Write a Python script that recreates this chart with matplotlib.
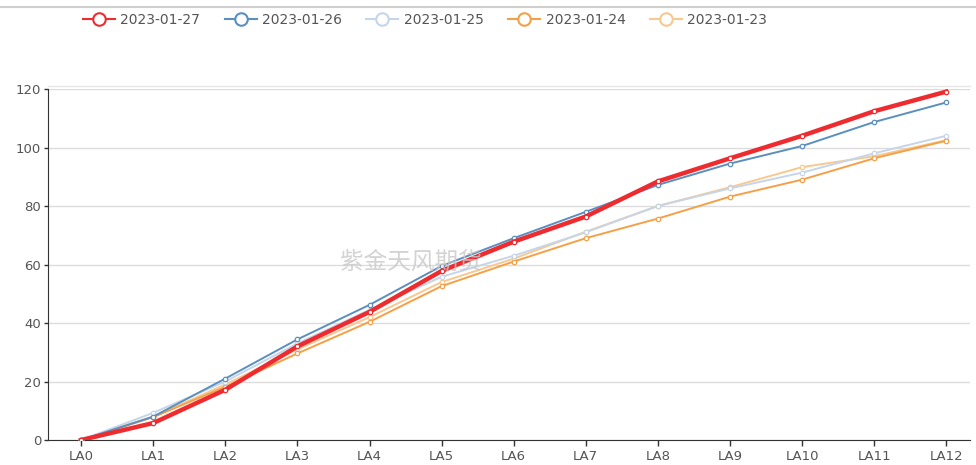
import matplotlib
matplotlib.use("Agg")
import matplotlib.pyplot as plt
from matplotlib.lines import Line2D

plt.rcParams['font.family'] = ['DejaVu Sans', 'Noto Sans CJK SC']

categories = ["LA0", "LA1", "LA2", "LA3", "LA4", "LA5", "LA6", "LA7", "LA8", "LA9", "LA10", "LA11", "LA12"]
s_0127 = [0, 5.8, 17.2, 32.0, 43.8, 57.8, 67.8, 76.4, 88.4, 96.3, 104.0, 112.4, 119.1]
s_0126 = [0, 8.0, 21.0, 34.4, 46.2, 59.5, 69.0, 78.0, 87.2, 94.5, 100.5, 108.7, 115.4]
s_0125 = [0, 9.3, 20.0, 33.0, 44.5, 55.8, 63.0, 71.0, 80.0, 86.0, 91.4, 98.0, 104.0]
s_0124 = [0, 7.8, 18.2, 29.6, 40.4, 52.6, 61.0, 69.0, 75.7, 83.2, 89.0, 96.3, 102.3]
s_0123 = [0, 8.0, 19.0, 31.0, 42.0, 54.0, 62.0, 71.2, 80.0, 86.4, 93.3, 97.0, 102.5]

series = [
    ("2023-01-27", s_0127, "#ee2c2f", 3.2),
    ("2023-01-26", s_0126, "#5a8fc0", 1.4),
    ("2023-01-25", s_0125, "#c5d5ea", 1.4),
    ("2023-01-24", s_0124, "#f4a049", 1.4),
    ("2023-01-23", s_0123, "#f8c88f", 1.4),
]

fig = plt.figure(figsize=(9.76, 4.65), dpi=100)
ax = fig.add_axes([48/976, 25/465, 922/976, 351/465])

x = list(range(len(categories)))
for name, vals, col, lw in reversed(series):
    ax.plot(x, vals, color=col, lw=lw, marker='o', ms=3.2, mfc='white',
            mec=col, mew=0.9, zorder=3 if lw < 2 else 4)

ax.set_xlim(-0.46, 12.33)
ax.set_ylim(0, 120)
ax.set_yticks([0, 20, 40, 60, 80, 100, 120])
ax.set_xticks(x)
ax.set_xticklabels(categories)
ax.grid(axis='y', color='#dcdcdc', lw=1)
ax.set_axisbelow(True)
for sp in ['top', 'right']:
    ax.spines[sp].set_visible(False)
ax.spines['left'].set_color('#333333')
ax.spines['bottom'].set_color('#333333')
ax.tick_params(axis='both', colors='#333333', labelcolor='#555555',
               labelsize=9.5, length=4, width=1)
ax.tick_params(axis='y', length=3, pad=2)
ax.axhline(121, color='#e6e6e6', lw=1, clip_on=False)

ax.text(0.394, 0.505, "紫金天风期货", transform=ax.transAxes, fontsize=17,
        color='#c8c8c8', ha='center', va='center', alpha=0.8, zorder=5,
        family=['Noto Sans CJK SC'])

handles = [Line2D([0], [0], color=c, lw=1.5, marker='o', ms=9, mfc='white',
                  mec=c, mew=1.5) for _, _, c, _ in series]
fig.legend(handles, [s[0] for s in series], loc='center', ncol=5,
           bbox_to_anchor=(425/976, 1 - 20/465), frameon=False, fontsize=10,
           handlelength=2.3, columnspacing=1.75, handletextpad=0.4,
           labelcolor='#555555')

fig.add_artist(Line2D([0, 1], [1 - 7/465, 1 - 7/465], color='#cfcfcf', lw=1.5))

fig.savefig("out.png", dpi=100)
